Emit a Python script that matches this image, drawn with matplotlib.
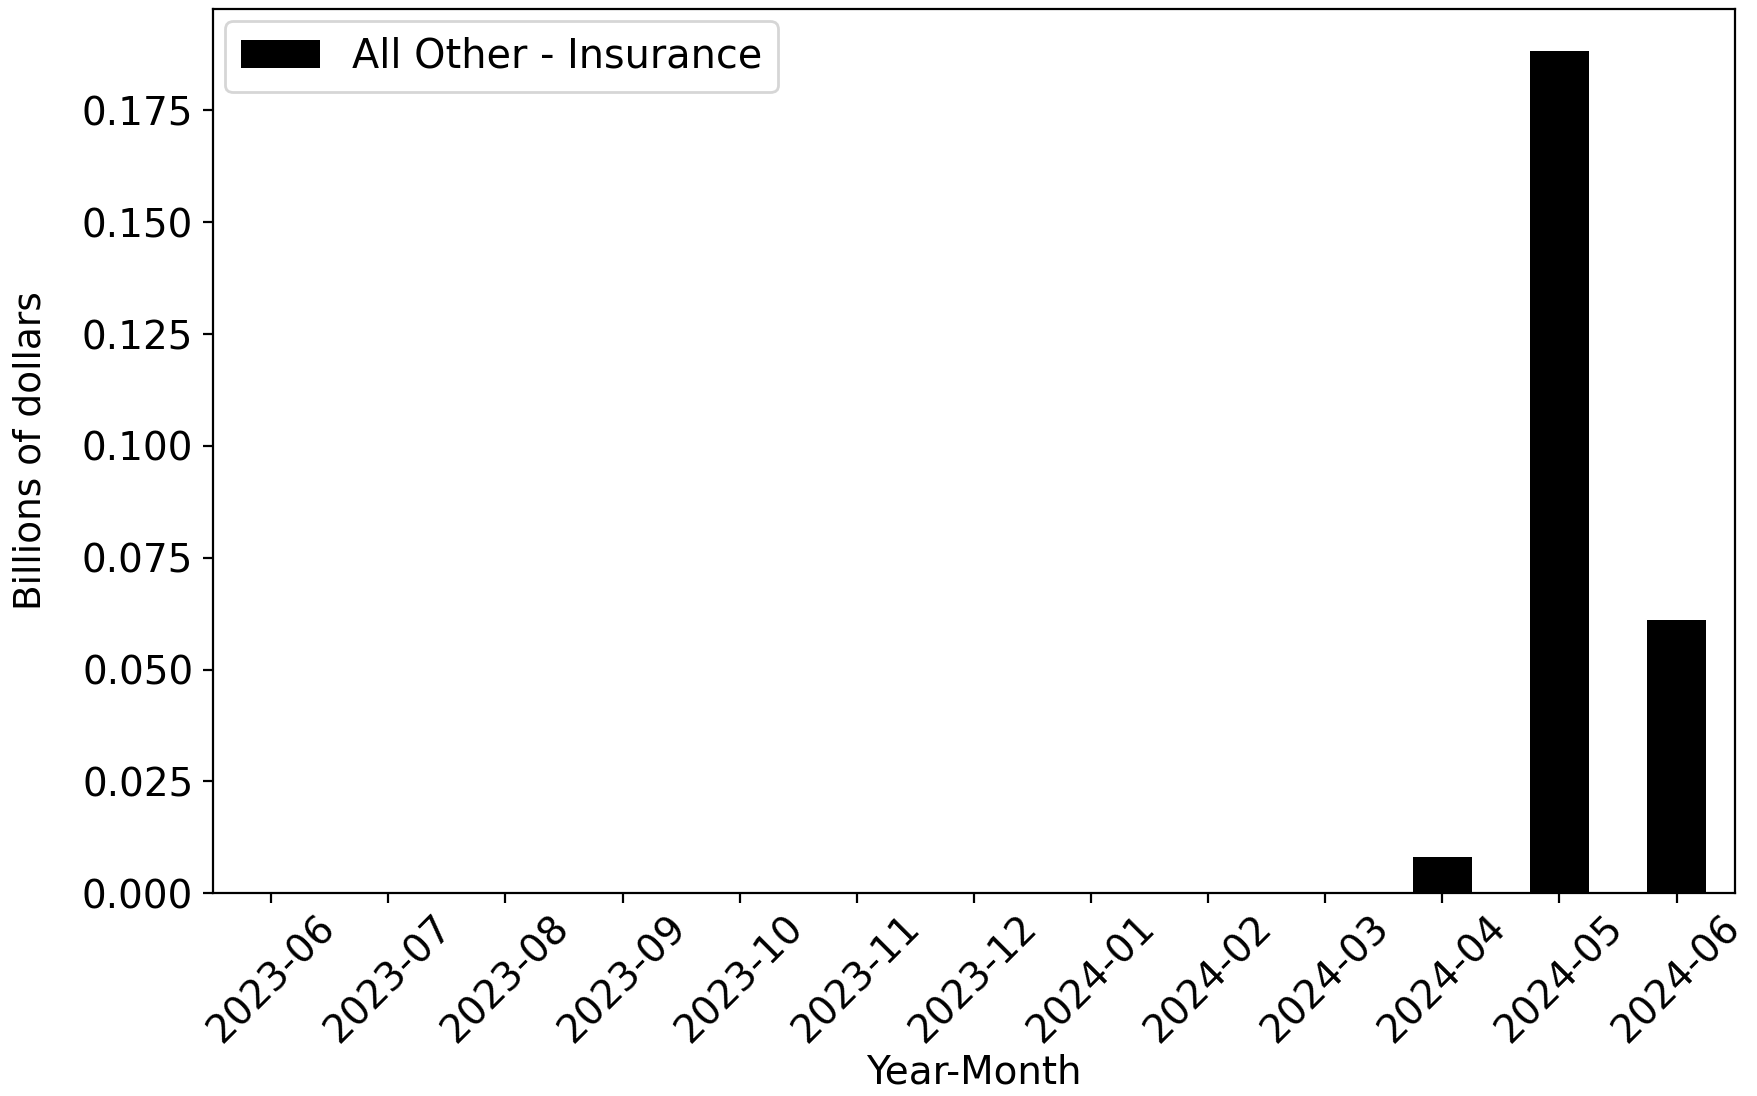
import matplotlib
matplotlib.use("Agg")
import matplotlib.pyplot as plt
import numpy as np

months = ["2023-06", "2023-07", "2023-08", "2023-09", "2023-10", "2023-11",
          "2023-12", "2024-01", "2024-02", "2024-03", "2024-04", "2024-05", "2024-06"]
values = [0, 0, 0, 0, 0, 0, 0, 0, 0, 0, 0.0080, 0.1883, 0.0611]
series_name = "All Other - Insurance"

plt.rcParams["font.size"] = 14

fig, ax = plt.subplots(figsize=(8.79, 5.48), dpi=200)
x = np.arange(len(months))
ax.bar(x, values, width=0.5, color="black", label=series_name)
ax.set_xlim(-0.5, len(months) - 0.5)
ax.set_xticks(x)
ax.set_xticklabels(months, rotation=45)
ax.tick_params(axis="x", pad=2)
ax.set_xlabel("Year-Month", labelpad=1)
ax.set_ylabel("Billions of dollars", fontsize=13.5, labelpad=12)
ax.legend(loc="upper left", fontsize=14.3, borderaxespad=0.3)

plt.subplots_adjust(left=0.121, right=0.987, top=0.992, bottom=0.185)
plt.savefig("out.png", dpi=200)
